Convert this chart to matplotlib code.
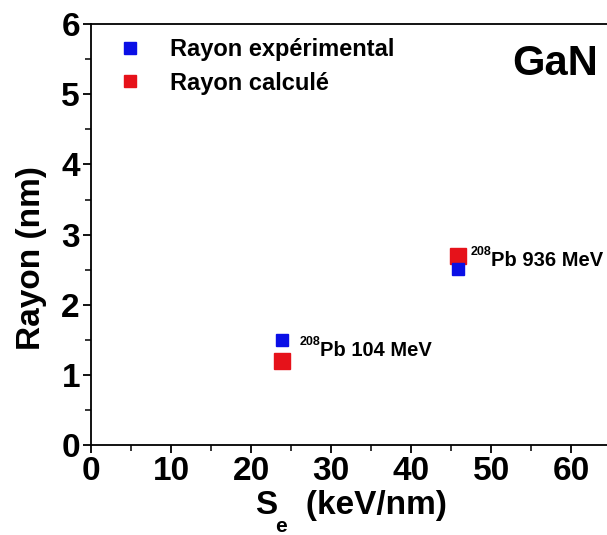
import matplotlib
matplotlib.use('Agg')
import matplotlib.pyplot as plt
from matplotlib.lines import Line2D
from matplotlib.ticker import MultipleLocator

plt.rcParams['font.family'] = ['Liberation Sans', 'DejaVu Sans']
plt.rcParams['font.weight'] = 'bold'

# data
se_exp = [23.9, 45.9]
r_exp = [1.50, 2.51]
se_calc = [23.9, 45.9]
r_calc = [1.20, 2.69]
ion_mass = ['208', '208']
ion_labels = ['Pb 104 MeV', 'Pb 936 MeV']
label_pos = [(28.6, 1.35), (50.0, 2.635)]

BLUE = '#0a0fe6'
RED = '#e6121a'

fig = plt.figure(figsize=(6.07, 5.35), dpi=100)
ax = fig.add_axes([0.150, 0.168, 0.857, 0.787])

ax.plot(se_exp, r_exp, 's', color=BLUE, ms=8.5, mec=BLUE, zorder=3)
ax.plot(se_calc, r_calc, 's', color=RED, ms=11, mec=RED, zorder=2)

for (x, y), mass, lab in zip(label_pos, ion_mass, ion_labels):
    ax.text(x, y, lab, fontsize=14.5, fontweight='bold',
            ha='left', va='center')
    ax.annotate(mass, xy=(x, y), xytext=(0, 6), textcoords='offset points',
                fontsize=9, fontweight='bold', ha='right', va='center')

ax.text(0.975, 0.905, 'GaN', transform=ax.transAxes, fontsize=30,
        fontweight='bold', ha='right', va='center')

handles = [
    Line2D([], [], ls='none', marker='s', color=BLUE, ms=8),
    Line2D([], [], ls='none', marker='s', color=RED, ms=8),
]
ax.legend(handles, ['Rayon expérimental', 'Rayon calculé'],
          loc='upper left', bbox_to_anchor=(0.02, 1.006), frameon=False,
          fontsize=17, handlelength=1.0, handletextpad=1.2,
          labelspacing=0.45, borderaxespad=0.3)

ax.set_xlim(0, 65)
ax.set_ylim(0, 6)
ax.xaxis.set_major_locator(MultipleLocator(10))
ax.xaxis.set_minor_locator(MultipleLocator(5))
ax.yaxis.set_major_locator(MultipleLocator(1))
ax.yaxis.set_minor_locator(MultipleLocator(0.5))
ax.tick_params(which='major', direction='out', length=6, width=1.3,
               labelsize=24, pad=2)
ax.tick_params(which='minor', direction='out', length=4, width=1.1)
for lab in ax.get_xticklabels() + ax.get_yticklabels():
    lab.set_fontweight('bold')
for s in ax.spines.values():
    s.set_linewidth(1.3)

# subscript "e" sits well below the baseline in the original
ax.set_xlabel('S   (keV/nm)', fontsize=24, fontweight='bold', labelpad=2)
fig.text(281 / 607, 1 - 526 / 535, 'e', fontsize=15, fontweight='bold',
         ha='center', va='center')
ax.set_ylabel('Rayon (nm)', fontsize=24, fontweight='bold')
ax.yaxis.set_label_coords(-0.085, 0.444)

fig.savefig('out.png', dpi=100)
